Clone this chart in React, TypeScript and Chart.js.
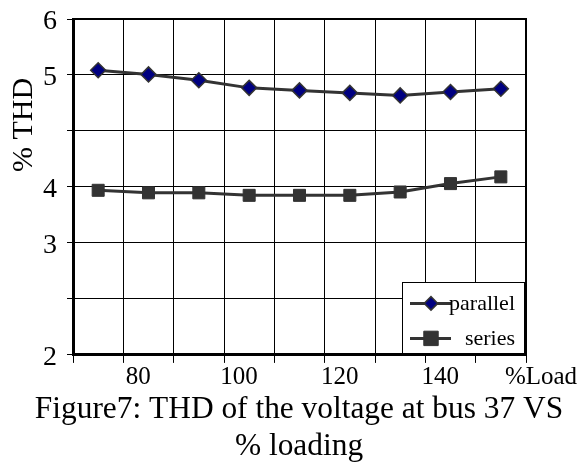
import React, { useEffect, useRef } from 'react';
import { Chart, registerables } from 'chart.js';

Chart.register(...registerables);

const loads = [75, 85, 95, 105, 115, 125, 135, 145, 155];
const parallelTHD = [5.39, 5.34, 5.27, 5.18, 5.15, 5.12, 5.09, 5.13, 5.17];
const seriesTHD = [3.96, 3.93, 3.93, 3.9, 3.9, 3.9, 3.94, 4.04, 4.12];
const seriesNames = ['parallel', 'series'];
const xTickValues = [80, 100, 120, 140, 160];
const xTickLabels = ['80', '100', '120', '140', '%Load'];
const yTickValues = [2, 2 + 2 / 3, 3 + 1 / 3, 4, 4 + 2 / 3, 5 + 1 / 3, 6];
const yTickLabels = ['2', '', '3', '4', '', '5', '6'];
const yAxisTitle = '% THD';
const caption = ['Figure7: THD of the voltage at bus 37 VS', '% loading'];

const FONT = '"Liberation Serif", "Times New Roman", serif';

function markerPath(ctx: CanvasRenderingContext2D, style: string, x: number, y: number, r: number) {
  ctx.beginPath();
  if (style === 'rectRot') {
    ctx.moveTo(x - r, y);
    ctx.lineTo(x, y - r);
    ctx.lineTo(x + r, y);
    ctx.lineTo(x, y + r);
    ctx.closePath();
  } else {
    const h = r * Math.SQRT1_2;
    ctx.rect(x - h, y - h, 2 * h, 2 * h);
  }
}

const framePlugin = {
  id: 'frame',
  beforeDatasetsDraw(chart: any) {
    const { ctx, chartArea } = chart;
    ctx.save();
    ctx.strokeStyle = '#000';
    ctx.lineWidth = 2;
    ctx.beginPath();
    ctx.moveTo(chartArea.left, chartArea.top);
    ctx.lineTo(chartArea.right, chartArea.top);
    ctx.lineTo(chartArea.right, chartArea.bottom);
    ctx.stroke();
    ctx.restore();
  },
};

const yTitlePlugin = {
  id: 'yTitle',
  afterDraw(chart: any) {
    const { ctx, chartArea } = chart;
    ctx.save();
    ctx.translate(chartArea.left - 41, chartArea.top + 106);
    ctx.rotate(-Math.PI / 2);
    ctx.font = `30px ${FONT}`;
    ctx.fillStyle = '#000';
    ctx.textAlign = 'center';
    ctx.textBaseline = 'alphabetic';
    ctx.fillText(yAxisTitle, 0, 0);
    ctx.restore();
  },
};

const legendBoxPlugin = {
  id: 'legendBox',
  afterDraw(chart: any) {
    const { ctx, chartArea } = chart;
    const right = chartArea.right - 2;
    const bottom = chartArea.bottom - 1.5;
    const w = 122;
    const h = 71;
    const left = right - w;
    const top = bottom - h;
    ctx.save();
    ctx.fillStyle = '#fff';
    ctx.fillRect(left, top, w, h);
    ctx.strokeStyle = '#000';
    ctx.lineWidth = 1;
    ctx.strokeRect(Math.round(left) + 0.5, Math.round(top) + 0.5, w, h);
    const rows = [top + 21, top + 56];
    chart.data.datasets.forEach((ds: any, i: number) => {
      const y = rows[i];
      ctx.strokeStyle = ds.borderColor;
      ctx.lineWidth = ds.borderWidth;
      ctx.beginPath();
      ctx.moveTo(left + 8, y);
      ctx.lineTo(left + 49, y);
      ctx.stroke();
      const r = ds.pointStyle === 'rect' ? ds.pointRadius * 1.2 : ds.pointRadius * 0.9;
      markerPath(ctx, ds.pointStyle, left + 29, y, r);
      ctx.fillStyle = ds.pointBackgroundColor;
      ctx.fill();
      ctx.strokeStyle = ds.pointBorderColor;
      ctx.lineWidth = ds.pointBorderWidth;
      ctx.stroke();
      ctx.fillStyle = '#000';
      ctx.font = `22px ${FONT}`;
      ctx.textAlign = 'right';
      ctx.textBaseline = 'middle';
      ctx.fillText(ds.label, right - 9, y + 1);
    });
    ctx.restore();
  },
};

export default function App() {
  const canvasRef = useRef<HTMLCanvasElement | null>(null);

  useEffect(() => {
    const canvas = canvasRef.current;
    if (!canvas) return;
    const chart = new Chart(canvas, {
      type: 'line',
      data: {
        datasets: [
          {
            label: seriesNames[0],
            data: loads.map((x, i) => ({ x, y: parallelTHD[i] })),
            borderColor: '#333333',
            borderWidth: 3,
            pointStyle: 'rectRot',
            pointRadius: 7.5,
            pointBackgroundColor: '#000080',
            pointBorderColor: '#333333',
            pointBorderWidth: 1.5,
            tension: 0,
          },
          {
            label: seriesNames[1],
            data: loads.map((x, i) => ({ x, y: seriesTHD[i] })),
            borderColor: '#333333',
            borderWidth: 3,
            pointStyle: 'rect',
            pointRadius: 8.5,
            pointBackgroundColor: '#333333',
            pointBorderColor: '#333333',
            pointBorderWidth: 1,
            tension: 0,
          },
        ] as any,
      },
      options: {
        responsive: false,
        animation: false,
        events: [],
        layout: { padding: { top: 19, right: 0, left: 11, bottom: 0 } },
        plugins: {
          legend: { display: false },
          tooltip: { enabled: false },
          title: {
            display: true,
            position: 'bottom',
            text: caption,
            color: '#000',
            font: { family: FONT, size: 31.4, weight: 'normal', lineHeight: 1.18 },
            padding: { top: 0, bottom: 2 },
          },
        },
        scales: {
          x: {
            type: 'linear',
            min: 70,
            max: 160,
            afterFit: (s: any) => {
              s.height = 36;
            },
            ticks: {
              stepSize: 10,
              autoSkip: false,
              maxRotation: 0,
              minRotation: 0,
              color: '#000',
              font: { family: FONT, size: 25 },
              padding: 0,
              labelOffset: 15,
              callback: (value: any) => {
                const i = xTickValues.indexOf(Math.round(Number(value)));
                return i >= 0 ? xTickLabels[i] : '';
              },
            },
            grid: { color: '#000', lineWidth: 1, tickLength: 8, drawTicks: true },
            border: { color: '#000', width: 3 },
          },
          y: {
            type: 'linear',
            min: 2,
            max: 6,
            afterFit: (s: any) => {
              s.width = 62;
            },
            afterBuildTicks: (s: any) => {
              s.ticks = yTickValues.map((v) => ({ value: v }));
            },
            ticks: {
              autoSkip: false,
              color: '#000',
              font: { family: FONT, size: 28, lineHeight: 0.6 },
              padding: 10,
              labelOffset: 3,
              callback: (_v: any, index: number) => yTickLabels[index] ?? '',
            },
            grid: { color: '#000', lineWidth: 1, tickLength: 6, drawTicks: true },
            border: { color: '#000', width: 3 },
          },
          yRight: {
            type: 'linear',
            position: 'right',
            display: true,
            min: 0,
            max: 1,
            afterFit: (s: any) => {
              s.width = 61;
            },
            ticks: { display: false },
            grid: { display: false, drawTicks: false },
            border: { display: false },
          },
        },
      } as any,
      plugins: [framePlugin, yTitlePlugin, legendBoxPlugin],
    });
    return () => chart.destroy();
  }, []);

  return (
    <div style={{ position: 'absolute', left: 0, top: 0, width: 587, height: 467, background: '#fff' }}>
      <canvas ref={canvasRef} width={587} height={467} style={{ display: 'block' }} />
    </div>
  );
}
